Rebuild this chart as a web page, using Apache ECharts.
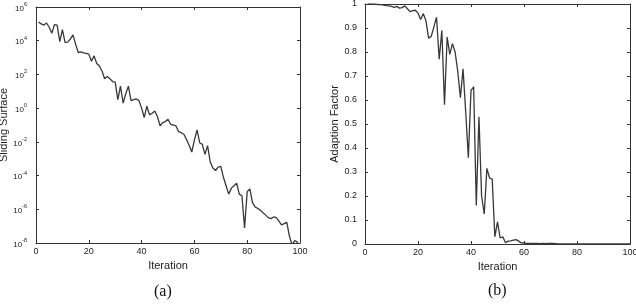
<!DOCTYPE html>
<html><head><meta charset="utf-8">
<script src="https://cdn.jsdelivr.net/npm/echarts@6/dist/echarts.min.js"></script>
<style>html,body{margin:0;padding:0;background:#fff}#c{width:636px;height:304px}</style>
</head><body><div id="c"></div>
<script>
const iterations = [1,2,3,4,5,6,7,8,9,10,11,12,13,14,15,16,17,18,19,20,21,22,23,24,25,26,27,28,29,30,31,32,33,34,35,36,37,38,39,40,41,42,43,44,45,46,47,48,49,50,51,52,53,54,55,56,57,58,59,60,61,62,63,64,65,66,67,68,69,70,71,72,73,74,75,76,77,78,79,80,81,82,83,84,85,86,87,88,89,90,91,92,93,94,95,96,97,98,99,100];
const slidingSurface = [1.26e5,1.0e5,8.5e4,1.12e5,6.3e4,2.8e4,8.9e4,8.3e4,8.9e3,4.5e4,
  7.9e3,8.3e3,1.26e4,2.2e4,6.3e3,2.0e3,2.2e3,1.9e3,1.8e3,1.6e3,
  600,1260,450,316,160,56,76,56,38,35,
  3.2,20,2.0,7.1,20,2.8,3.2,3.5,2.8,1.0,
  0.28,1.3,0.4,0.5,0.68,0.32,0.089,0.14,0.16,0.22,
  0.11,0.1,0.089,0.04,0.035,0.028,0.014,0.0063,0.0025,0.0126,
  0.052,0.0089,0.0071,0.0018,0.006,6.3e-4,2.8e-4,2.0e-4,3.2e-4,3.5e-4,
  7.9e-5,2.5e-5,7.9e-6,1.8e-5,2.5e-5,3.5e-5,7.9e-6,6.3e-6,7.9e-8,1.12e-5,
  1.6e-5,2.5e-6,1.4e-6,1.12e-6,8.9e-7,6.3e-7,4.5e-7,3.2e-7,2.8e-7,3.5e-7,
  3.2e-7,2.0e-7,1.2e-7,1.4e-7,1.66e-7,2.5e-8,7.9e-9,1.4e-8,1.12e-8,5e-9];
const adaptionFactor = [1.0,1.0,1.0,0.999,0.998,0.997,0.995,0.993,0.992,0.99,
  0.986,0.99,0.983,0.985,0.992,0.98,0.968,0.972,0.974,0.962,
  0.935,0.96,0.93,0.858,0.865,0.905,0.945,0.77,0.89,0.58,
  0.862,0.79,0.835,0.8,0.72,0.61,0.73,0.55,0.36,0.64,
  0.655,0.16,0.53,0.2,0.125,0.315,0.275,0.27,0.03,0.092,
  0.025,0.03,0.005,0.012,0.013,0.016,0.018,0.012,0.004,0.006,
  0.002,0.003,0.002,0.003,0.002,0.001,0.003,0.001,0.002,0.003,
  0.002,0.001,0,0,0,0,0,0,0,0,
  0,0,0,0,0,0,0,0,0,0,
  0,0,0,0,0,0,0,0,0,0];
const xTickLabels = ['0','20','40','60','80','100'];
const panelLabels = ['(a)','(b)'];
const axisNames = {x:'Iteration', yA:'Sliding Surface', yB:'Adaption Factor'};

const AX = '#333', TXT = '#222';
const FONT = 'Liberation Sans, Arial, sans-serif';
const pairsA = iterations.map((x,i)=>[x, slidingSurface[i]]);
const pairsB = iterations.map((x,i)=>[x, adaptionFactor[i]]);

function xAx(grid, pos, withLabels) {
  return {
    gridIndex: grid, type: 'value', position: pos, min: 0, max: 100, interval: 20,
    axisLine: {show: true, onZero: false, lineStyle: {color: AX, width: 1}},
    axisTick: {show: true, inside: true, length: 3, lineStyle: {color: AX}},
    splitLine: {show: false},
    axisLabel: {show: withLabels, fontSize: 9, color: TXT, margin: 4, fontFamily: FONT},
    name: withLabels ? axisNames.x : '', nameLocation: 'middle', nameGap: 17,
    nameTextStyle: {fontSize: 11, color: TXT, fontFamily: FONT}
  };
}
function yLog(grid, pos, withLabels) {
  return {
    gridIndex: grid, type: 'log', logBase: 100, position: pos, min: 1e-8, max: 1e6, splitNumber: 7,
    axisLine: {show: true, onZero: false, lineStyle: {color: AX, width: 1}},
    axisTick: {show: true, inside: true, length: 3, lineStyle: {color: AX}},
    minorTick: {show: false}, splitLine: {show: false},
    axisLabel: {show: withLabels, margin: 9, color: TXT,
      formatter: v => '{b|10}{s|' + Math.round(Math.log10(v)) + '}',
      rich: {
        b: {fontSize: 8, color: TXT, lineHeight: 11, verticalAlign: 'bottom', fontFamily: FONT},
        s: {fontSize: 5.5, color: TXT, lineHeight: 5, verticalAlign: 'top', fontFamily: FONT}
      }},
    name: withLabels ? axisNames.yA : '', nameLocation: 'middle', nameGap: 25,
    nameTextStyle: {fontSize: 11, color: TXT, fontFamily: FONT}
  };
}
function yLin(grid, pos, withLabels) {
  return {
    gridIndex: grid, type: 'value', position: pos, min: 0, max: 1, interval: 0.1,
    axisLine: {show: true, onZero: false, lineStyle: {color: AX, width: 1}},
    axisTick: {show: true, inside: true, length: 3, lineStyle: {color: AX}},
    splitLine: {show: false},
    axisLabel: {show: withLabels, fontSize: 9, color: TXT, margin: 8, fontFamily: FONT},
    name: withLabels ? axisNames.yB : '', nameLocation: 'middle', nameGap: 24,
    nameTextStyle: {fontSize: 11, color: TXT, fontFamily: FONT}
  };
}

const chart = echarts.init(document.getElementById('c'), null, {renderer: 'canvas'});
chart.setOption({
  animation: false,
  backgroundColor: '#fff',
  grid: [
    {left: 36, right: 336, top: 7, bottom: 61, containLabel: false, outerBoundsMode: 'none'},
    {left: 365, right: 6, top: 4, bottom: 60, containLabel: false, outerBoundsMode: 'none'}
  ],
  xAxis: [xAx(0,'bottom',true), xAx(0,'top',false), xAx(1,'bottom',true), xAx(1,'top',false)],
  yAxis: [yLog(0,'left',true), yLog(0,'right',false), yLin(1,'left',true), yLin(1,'right',false)],
  series: [
    {type: 'line', xAxisIndex: 0, yAxisIndex: 0, data: pairsA, showSymbol: false, symbol: 'none',
      lineStyle: {color: '#383838', width: 1.3}, clip: true},
    {type: 'line', xAxisIndex: 2, yAxisIndex: 2, data: pairsB, showSymbol: false, symbol: 'none',
      lineStyle: {color: '#383838', width: 1.3}, clip: true}
  ],
  graphic: [
    {type: 'text', left: 154, top: 284, style: {text: panelLabels[0], fontSize: 16, fill: '#111', fontFamily: 'Liberation Serif, Times New Roman, serif'}},
    {type: 'text', left: 488, top: 283, style: {text: panelLabels[1], fontSize: 16, fill: '#111', fontFamily: 'Liberation Serif, Times New Roman, serif'}}
  ]
});
</script></body></html>
